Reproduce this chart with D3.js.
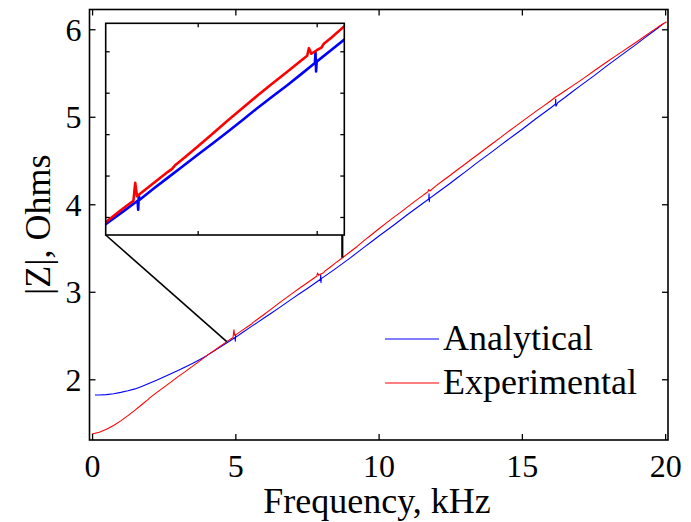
<!DOCTYPE html>
<html>
<head>
<meta charset="utf-8">
<script src="https://cdn.jsdelivr.net/npm/d3@7/dist/d3.min.js"></script>
<style>
  html, body { margin: 0; padding: 0; background: #fff; }
  svg { display: block; font-family: "Liberation Serif", "Times New Roman", serif; }
</style>
</head>
<body>
<svg id="chart" width="691" height="522"></svg>
<script>
// Impedance magnitude |Z| (Ohms) against frequency (kHz)
const analyticalFreq = [
  0.1, 0.25, 0.5, 0.75, 1.0, 1.25, 1.5, 1.75, 2.0, 2.25, 2.5, 2.75, 3.0, 3.25, 3.5, 3.75,
  4.0, 4.25, 4.5, 4.75, 4.99, 5.0, 5.01, 5.02, 5.25, 5.5, 5.75, 6.0, 6.25, 6.5, 6.75, 7.0,
  7.25, 7.5, 7.75, 7.97, 7.98, 7.99, 8.0, 8.25, 8.5, 8.75, 9.0, 9.25, 9.5, 9.75, 10.0,
  10.25, 10.5, 10.75, 11.0, 11.25, 11.5, 11.75, 11.76, 11.77, 11.78, 12.0, 12.25, 12.5,
  12.75, 13.0, 13.25, 13.5, 13.75, 14.0, 14.25, 14.5, 14.75, 15.0, 15.25, 15.5, 15.75,
  16.0, 16.17, 16.18, 16.19, 16.25, 16.5, 16.75, 17.0, 17.25, 17.5, 17.75, 18.0, 18.25,
  18.5, 18.75, 19.0, 19.25, 19.5, 19.75, 19.95
];
const analyticalZ = [
  1.820, 1.821, 1.825, 1.835, 1.850, 1.868, 1.890, 1.920, 1.955, 1.988, 2.025, 2.062, 2.100, 2.140, 2.180, 2.224,
  2.270, 2.322, 2.375, 2.427, 2.478, 2.435, 2.505, 2.482, 2.535, 2.590, 2.645, 2.700, 2.755, 2.810, 2.867, 2.925,
  2.980, 3.035, 3.092, 3.143, 3.195, 3.103, 3.150, 3.207, 3.265, 3.325, 3.385, 3.447, 3.510, 3.572, 3.635,
  3.695, 3.755, 3.818, 3.880, 3.940, 4.000, 4.060, 4.120, 4.030, 4.067, 4.120, 4.180, 4.240,
  4.303, 4.365, 4.428, 4.490, 4.550, 4.610, 4.673, 4.735, 4.795, 4.855, 4.918, 4.980, 5.040,
  5.100, 5.143, 5.200, 5.120, 5.160, 5.220, 5.283, 5.345, 5.405, 5.465, 5.528, 5.590, 5.650,
  5.710, 5.770, 5.830, 5.893, 5.955, 6.015, 6.068
];
const experimentalFreq = [
  0.0, 0.25, 0.5, 0.75, 1.0, 1.25, 1.5, 1.75, 1.95, 2.0, 2.25, 2.5, 2.75, 3.0, 3.25, 3.5,
  3.75, 4.0, 4.25, 4.5, 4.75, 4.92, 4.95, 4.98, 5.0, 5.25, 5.5, 5.57, 5.62, 5.75, 6.0, 6.25,
  6.5, 6.75, 7.0, 7.25, 7.5, 7.75, 7.84, 7.87, 7.91, 8.0, 8.08, 8.12, 8.25, 8.5, 8.75, 9.0,
  9.25, 9.5, 9.75, 10.0, 10.25, 10.5, 10.75, 11.0, 11.25, 11.5, 11.72, 11.75, 11.79, 12.0,
  12.25, 12.5, 12.75, 13.0, 13.25, 13.5, 13.75, 14.0, 14.25, 14.5, 14.75, 15.0, 15.25,
  15.5, 15.75, 16.0, 16.2, 16.25, 16.5, 16.75, 17.0, 17.25, 17.5, 17.75, 18.0, 18.25,
  18.5, 18.75, 19.0, 19.25, 19.5, 19.75, 20.05
];
const experimentalZ = [
  1.375, 1.395, 1.428, 1.472, 1.525, 1.585, 1.648, 1.715, 1.768, 1.785, 1.848, 1.908, 1.968, 2.030, 2.087, 2.148,
  2.208, 2.270, 2.326, 2.385, 2.442, 2.478, 2.565, 2.500, 2.505, 2.562, 2.618, 2.632, 2.650, 2.680, 2.740, 2.802,
  2.865, 2.925, 2.985, 3.043, 3.100, 3.158, 3.178, 3.215, 3.188, 3.205, 3.218, 3.236, 3.266, 3.330, 3.392, 3.455,
  3.518, 3.588, 3.652, 3.718, 3.782, 3.845, 3.905, 3.968, 4.030, 4.090, 4.143, 4.168, 4.152, 4.210,
  4.272, 4.332, 4.395, 4.455, 4.518, 4.578, 4.640, 4.700, 4.762, 4.825, 4.885, 4.945, 5.005,
  5.065, 5.122, 5.180, 5.232, 5.240, 5.295, 5.350, 5.405, 5.462, 5.520, 5.578, 5.635, 5.690,
  5.745, 5.800, 5.855, 5.912, 5.970, 6.025, 6.085
];

const seriesNames = ["Analytical", "Experimental"];
const seriesColors = ["#0000ff", "#ff0000"];

const xTicks = [0, 5, 10, 15, 20];
const yTicks = [2, 3, 4, 5, 6];
const xDomain = [-0.09, 20.1];
const yDomain = [1.306, 6.226];

// Close-up panel
const insetXDomain = [4.454, 8.464];
const insetYDomain = [2.313, 3.335];
const insetXTicks = [6, 8];
const insetYTicks = [2.4, 2.6, 2.8, 3.0, 3.2];
// Points on the main curve that the close-up's lower corners point at
const zoomAnchors = [[4.70, 2.43], [8.74, 3.39]];

// ---------- layout ----------
const frame = { left: 89.5, right: 668, top: 9.5, bottom: 440 };
const insetFrame = { left: 105.7, right: 344.3, top: 23.3, bottom: 235 };

const svg = d3.select("#chart");

const x = d3.scaleLinear().domain(xDomain).range([frame.left, frame.right]);
const y = d3.scaleLinear().domain(yDomain).range([frame.bottom, frame.top]);

const series = [
  analyticalFreq.map((f, i) => [f, analyticalZ[i]]),
  experimentalFreq.map((f, i) => [f, experimentalZ[i]])
];

// clip for main plot
svg.append("clipPath").attr("id", "mainClip")
  .append("rect")
  .attr("x", frame.left).attr("y", frame.top)
  .attr("width", frame.right - frame.left).attr("height", frame.bottom - frame.top);

const mainLine = d3.line().x(d => x(d[0])).y(d => y(d[1]));

const mainG = svg.append("g").attr("clip-path", "url(#mainClip)");
series.forEach((s, i) => {
  mainG.append("path")
    .datum(s)
    .attr("fill", "none")
    .attr("stroke", seriesColors[i])
    .attr("stroke-width", 1.1)
    .attr("stroke-linejoin", "round")
    .attr("d", mainLine);
});

// axes with inward ticks on all four sides
const tickLen = 6;
function boxAxes(g, xs, ys, xt, yt, tl, fr, withLabels) {
  g.append("g")
    .attr("class", "ax-bottom")
    .attr("transform", `translate(0,${fr.bottom})`)
    .call(d3.axisBottom(xs).tickValues(xt).tickSizeInner(-tl).tickSizeOuter(0)
      .tickFormat(withLabels ? d3.format("d") : () => ""))
    .call(a => a.select(".domain").remove());
  g.append("g")
    .attr("transform", `translate(0,${fr.top})`)
    .call(d3.axisTop(xs).tickValues(xt).tickSizeInner(-tl).tickSizeOuter(0).tickFormat(() => ""))
    .call(a => a.select(".domain").remove());
  g.append("g")
    .attr("class", "ax-left")
    .attr("transform", `translate(${fr.left},0)`)
    .call(d3.axisLeft(ys).tickValues(yt).tickSizeInner(-tl).tickSizeOuter(0)
      .tickFormat(withLabels ? d3.format("d") : () => ""))
    .call(a => a.select(".domain").remove());
  g.append("g")
    .attr("transform", `translate(${fr.right},0)`)
    .call(d3.axisRight(ys).tickValues(yt).tickSizeInner(-tl).tickSizeOuter(0).tickFormat(() => ""))
    .call(a => a.select(".domain").remove());
  g.selectAll(".tick line").attr("stroke", "#000").attr("stroke-width", 1.3);
  g.append("rect")
    .attr("x", fr.left).attr("y", fr.top)
    .attr("width", fr.right - fr.left).attr("height", fr.bottom - fr.top)
    .attr("fill", "none").attr("stroke", "#000").attr("stroke-width", 1.6);
}

const axesG = svg.append("g");
boxAxes(axesG, x, y, xTicks, yTicks, tickLen, frame, true);
axesG.selectAll("text")
  .attr("fill", "#000")
  .style("font-family", "'Liberation Serif', 'Times New Roman', serif")
  .style("font-size", "32px");
axesG.select(".ax-bottom").selectAll("text").attr("y", 14).attr("dy", "0.71em");
axesG.select(".ax-left").selectAll("text").attr("x", -8).attr("dy", "0.34em");

// axis titles
svg.append("text")
  .attr("x", 377).attr("y", 513)
  .attr("text-anchor", "middle")
  .style("font-size", "36px")
  .text("Frequency, kHz");

svg.append("text")
  .attr("transform", `translate(50,${(frame.top + frame.bottom) / 2}) rotate(-90)`)
  .attr("text-anchor", "middle")
  .style("font-size", "36px")
  .text("|Z|, Ohms");

// legend
const legend = svg.append("g");
const legendRows = [339, 383];
seriesNames.forEach((name, i) => {
  legend.append("line")
    .attr("x1", 385).attr("x2", 439)
    .attr("y1", legendRows[i]).attr("y2", legendRows[i])
    .attr("stroke", seriesColors[i]).attr("stroke-width", 1.1);
  legend.append("text")
    .attr("x", 443).attr("y", legendRows[i] + 11)
    .style("font-size", "36px")
    .text(name);
});

// ---------- close-up panel ----------
const xi = d3.scaleLinear().domain(insetXDomain).range([insetFrame.left, insetFrame.right]);
const yi = d3.scaleLinear().domain(insetYDomain).range([insetFrame.bottom, insetFrame.top]);

// connectors from the panel's lower corners to the magnified part of the curve
svg.append("line")
  .attr("x1", insetFrame.left).attr("y1", insetFrame.bottom)
  .attr("x2", x(zoomAnchors[0][0])).attr("y2", y(zoomAnchors[0][1]))
  .attr("stroke", "#000").attr("stroke-width", 1.6);
svg.append("line")
  .attr("x1", insetFrame.right - 2).attr("y1", insetFrame.bottom)
  .attr("x2", insetFrame.right - 2).attr("y2", y(zoomAnchors[1][1]))
  .attr("stroke", "#000").attr("stroke-width", 2.2);

svg.append("rect")
  .attr("x", insetFrame.left).attr("y", insetFrame.top)
  .attr("width", insetFrame.right - insetFrame.left).attr("height", insetFrame.bottom - insetFrame.top)
  .attr("fill", "#fff");

svg.append("clipPath").attr("id", "insetClip")
  .append("rect")
  .attr("x", insetFrame.left).attr("y", insetFrame.top)
  .attr("width", insetFrame.right - insetFrame.left).attr("height", insetFrame.bottom - insetFrame.top);

const insetLine = d3.line().x(d => xi(d[0])).y(d => yi(d[1]));
const insetG = svg.append("g").attr("clip-path", "url(#insetClip)");
series.forEach((s, i) => {
  insetG.append("path")
    .datum(s)
    .attr("fill", "none")
    .attr("stroke", seriesColors[i])
    .attr("stroke-width", 2.6)
    .attr("stroke-linejoin", "round")
    .attr("d", insetLine);
});

const insetAxes = svg.append("g");
boxAxes(insetAxes, xi, yi, insetXTicks, insetYTicks, 4, insetFrame, false);
</script>
</body>
</html>
